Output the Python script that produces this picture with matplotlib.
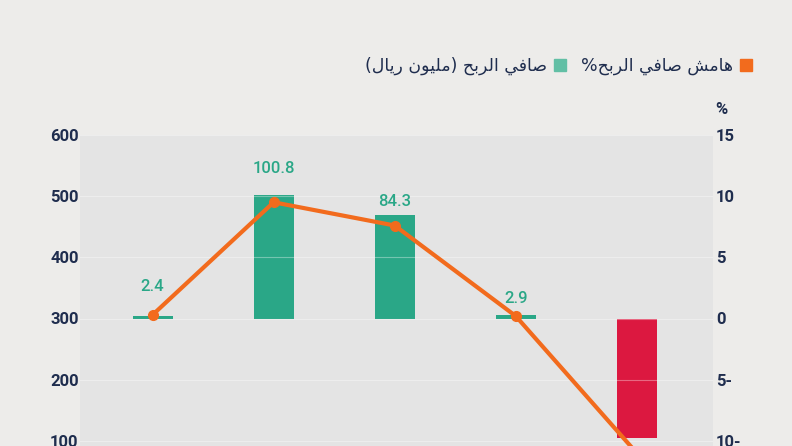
import numpy as np
import matplotlib
matplotlib.use('Agg')
import matplotlib.pyplot as plt
from matplotlib.patches import Patch

# بيانات الرسم
profit = [2.4, 100.8, 84.3, 2.9, -98.0]        # صافي الربح (مليون ريال)
margin = [0.3, 9.5, 7.6, 0.2, -11.0]           # هامش صافي الربح %
label_offsets = [29, 27, 14, 16, -40]          # إزاحة تسميات القيم (بكسل)

left_ticks = [150, 100, 50, 0, -50, -100, -150]
left_labels = ['600', '500', '400', '300', '200', '100', '0']
right_ticks = [15, 10, 5, 0, -5, -10, -15]
right_labels = ['15', '10', '5', '0', '5-', '10-', '15-']

legend_profit = 'صافي الربح (مليون ريال)'
legend_margin = 'هامش صافي الربح%'

NAVY = '#1f2d4e'
GREEN = '#2aa787'
RED = '#dc1840'
ORANGE = '#f26b1d'

# تشكيل الحروف العربية يدوياً (matplotlib لا يشكّل النص العربي)
FORMS = {
    'ا': ('\uFE8D', '\uFE8E', None, None),
    'ب': ('\uFE8F', '\uFE90', '\uFE91', '\uFE92'),
    'ح': ('\uFEA1', '\uFEA2', '\uFEA3', '\uFEA4'),
    'ر': ('\uFEAD', '\uFEAE', None, None),
    'ش': ('\uFEB5', '\uFEB6', '\uFEB7', '\uFEB8'),
    'ص': ('\uFEB9', '\uFEBA', '\uFEBB', '\uFEBC'),
    'ف': ('\uFED1', '\uFED2', '\uFED3', '\uFED4'),
    'ل': ('\uFEDD', '\uFEDE', '\uFEDF', '\uFEE0'),
    'م': ('\uFEE1', '\uFEE2', '\uFEE3', '\uFEE4'),
    'ن': ('\uFEE5', '\uFEE6', '\uFEE7', '\uFEE8'),
    'ه': ('\uFEE9', '\uFEEA', '\uFEEB', '\uFEEC'),
    'و': ('\uFEED', '\uFEEE', None, None),
    'ي': ('\uFEF1', '\uFEF2', '\uFEF3', '\uFEF4'),
}


def shape(s):
    out = []
    for i, c in enumerate(s):
        if c not in FORMS:
            out.append(c)
            continue
        prev = s[i - 1] if i > 0 else ''
        nxt = s[i + 1] if i + 1 < len(s) else ''
        join_prev = prev in FORMS and FORMS[prev][2] is not None
        join_next = nxt in FORMS and FORMS[c][2] is not None
        iso, fin, ini, med = FORMS[c]
        if join_prev and join_next:
            out.append(med)
        elif join_prev:
            out.append(fin)
        elif join_next:
            out.append(ini)
        else:
            out.append(iso)
    vis = ''.join(reversed(out))
    return vis.translate(str.maketrans('()', ')('))


plt.rcParams['font.family'] = ['Roboto', 'DejaVu Sans']

fig = plt.figure(figsize=(7.92, 4.46), dpi=100)
fig.patch.set_facecolor('#edecea')
ax = fig.add_axes([80 / 792, 1 - 502 / 446, 633 / 792, 367 / 446])
ax.set_facecolor('#e4e4e4')

x = np.arange(len(profit))
colors = [GREEN if v >= 0 else RED for v in profit]
ax.bar(x, profit, width=0.33, color=colors, zorder=2)
ax.set_xlim(-0.6, 4.63)
ax.set_ylim(-150, 150)

for xi, v, off in zip(x, profit, label_offsets):
    ax.annotate(f'{v:.1f}', (xi, v), xytext=(0, off),
                textcoords='offset pixels', ha='center', va='center',
                fontsize=12, color=GREEN, fontweight='medium', zorder=5)

ax.set_yticks(left_ticks)
ax.set_yticklabels(left_labels)
ax.set_xticks([])
ax.tick_params(axis='y', length=0, pad=1, labelsize=12, labelcolor=NAVY)
for t in ax.get_yticklabels():
    t.set_fontweight('bold')
for sp in ax.spines.values():
    sp.set_visible(False)
for yv in left_ticks:
    ax.axhline(yv, color='white', alpha=0.35, lw=0.8, zorder=3)

ax2 = ax.twinx()
ax2.set_ylim(-15, 15)
ax2.plot(x, margin, color=ORANGE, lw=3, marker='o', markersize=7, zorder=6)
ax2.set_yticks(right_ticks)
ax2.set_yticklabels(right_labels)
ax2.tick_params(axis='y', length=0, pad=2, labelsize=12, labelcolor=NAVY)
for t in ax2.get_yticklabels():
    t.set_fontweight('bold')
    t.set_horizontalalignment('left')
for sp in ax2.spines.values():
    sp.set_visible(False)

fig.text(715 / 792, 1 - 109 / 446, '%', fontsize=12, fontweight='bold',
         color=NAVY, ha='left', va='center')

handles = [Patch(color='#62bfa5'), Patch(color=ORANGE)]
labels = [shape(legend_profit), shape(legend_margin)]
leg = fig.legend(handles, labels, loc='center right', ncol=2,
                 bbox_to_anchor=(768 / 792, 1 - 66 / 446), frameon=False,
                 markerfirst=False, handlelength=0.7, handleheight=0.7,
                 handletextpad=0.4, columnspacing=0.9,
                 prop={'family': 'DejaVu Sans', 'size': 12.5})
for t in leg.get_texts():
    t.set_color(NAVY)

fig.savefig('out.png', dpi=100, facecolor=fig.get_facecolor())
